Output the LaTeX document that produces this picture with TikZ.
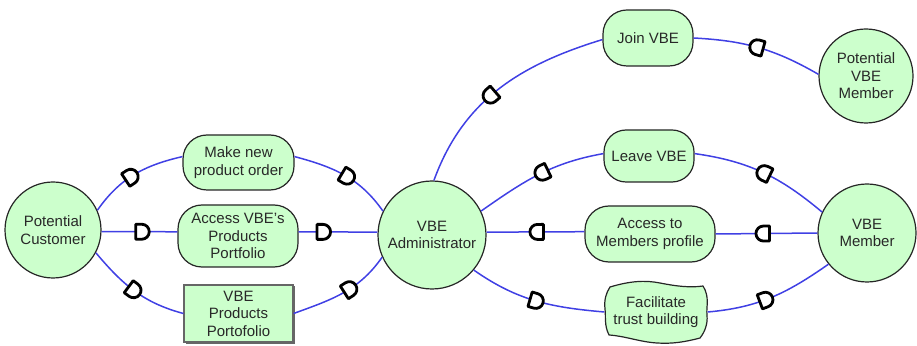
\documentclass[tikz,border=0pt]{standalone}
\usepackage{fontspec}
\setmainfont{Liberation Sans}
\usetikzlibrary{decorations.markings,shadows}
\definecolor{nodefill}{RGB}{204,255,204}
\definecolor{linkblue}{RGB}{64,64,228}
\definecolor{txt}{RGB}{40,40,40}
\begin{document}
\begin{tikzpicture}[x=1pt,y=1pt,
  base/.style={fill=nodefill, draw=black!85, line width=1.2pt,
    font=\fontsize{15}{17.5}\selectfont, text=txt, align=center, inner sep=0pt},
  actor/.style={base, circle, minimum size=#1},
  pill/.style={base, rectangle, rounded corners=24pt},
  resbox/.style={base, rectangle, draw=black!60,
    drop shadow={shadow xshift=1.5pt, shadow yshift=-1.5pt, fill=black!60, opacity=1}},
  link/.style={draw=linkblue, line width=1.5pt},
  dshape/.style={draw=black, fill=white, line width=2.8pt, line join=round},
  dfwd/.style={postaction={decorate, decoration={markings, mark=at position #1 with
    {\draw[dshape] (-6pt,-7.5pt) -- (-6pt,7.5pt) -- (0pt,7.5pt) arc[start angle=90,end angle=-90,radius=7.5pt] -- cycle;}}}},
  drev/.style={postaction={decorate, decoration={markings, mark=at position #1 with
    {\draw[dshape] (6pt,-7.5pt) -- (6pt,7.5pt) -- (0pt,7.5pt) arc[start angle=90,end angle=270,radius=7.5pt] -- cycle;}}}}
]
\useasboundingbox (0,0) rectangle (917,345);

% softgoal shape
\draw[fill=nodefill, draw=black!85, line width=1.2pt, line join=round]
  (610,58) .. controls (630,64) and (645,65) .. (660,62)
  .. controls (675,59) and (690,57) .. (703,59)
  .. controls (710,48) and (706,38) .. (707,30)
  .. controls (708,20) and (704,12) .. (700,7)
  .. controls (685,3) and (672,1) .. (657,2)
  .. controls (640,3) and (625,9) .. (609,10)
  .. controls (604,20) and (606,28) .. (605,36)
  .. controls (604,45) and (606,52) .. (610,58) -- cycle;

\node[actor=96] (cust) at (53,115) {Potential\\Customer};
\node[pill, minimum width=111, minimum height=55] (make) at (238.5,182.5) {Make new\\product order};
\node[pill, minimum width=120, minimum height=62] (accp) at (238,109) {Access VBE's\\Products\\Portfolio};
\node[resbox, minimum width=109, minimum height=57] (prod) at (238.5,31.5) {VBE\\Products\\Portofolio};
\node[actor=108] (admin) at (432,110) {VBE\\Administrator};
\node[pill, minimum width=90, minimum height=56] (join) at (648,307) {Join VBE};
\node[actor=94] (pvm) at (866,269) {Potential\\VBE\\Member};
\node[pill, minimum width=90, minimum height=52, rounded corners=22pt] (leave) at (649,189) {Leave VBE};
\node[pill, minimum width=130, minimum height=56] (accm) at (650,111) {Access to\\Members profile};
\node[base, draw=none, fill=none, minimum width=102, minimum height=58] (fac) at (656,33) {Facilitate\\trust building};
\node[actor=98] (vbem) at (867,112) {VBE\\Member};

\draw[link, dfwd=0.46] (cust.24) to[out=55,in=193] (make.174);
\draw[link, dfwd=0.53] (make.6) to[out=-15,in=125] (admin.154);
\draw[link, dfwd=0.53] (cust.-2) -- (accp.176);
\draw[link, dfwd=0.31] (accp.4) -- (admin.177);
\draw[link, dfwd=0.49] (cust.-28) to[out=-50,in=165] (prod.west);
\draw[link, dfwd=0.57] (prod.east) to[out=20,in=235] (admin.204);

\draw[link, drev=0.45] (admin.88) to[out=70,in=197] (join.182);
\draw[link, drev=0.49] (join.east) to[out=-3,in=150] (pvm.178);
\draw[link, drev=0.53] (admin.26) to[out=35,in=190] (leave.177);
\draw[link, drev=0.51] (leave.3) to[out=-8,in=140] (vbem.155);
\draw[link, drev=0.52] (admin.3) -- (accm.178);
\draw[link, drev=0.47] (accm.east) -- (vbem.west);
\draw[link, dfwd=0.50] (admin.-40) to[out=-35,in=175] (fac.west);
\draw[link, dfwd=0.45] (fac.east) to[out=5,in=215] (vbem.219);
\end{tikzpicture}
\end{document}
